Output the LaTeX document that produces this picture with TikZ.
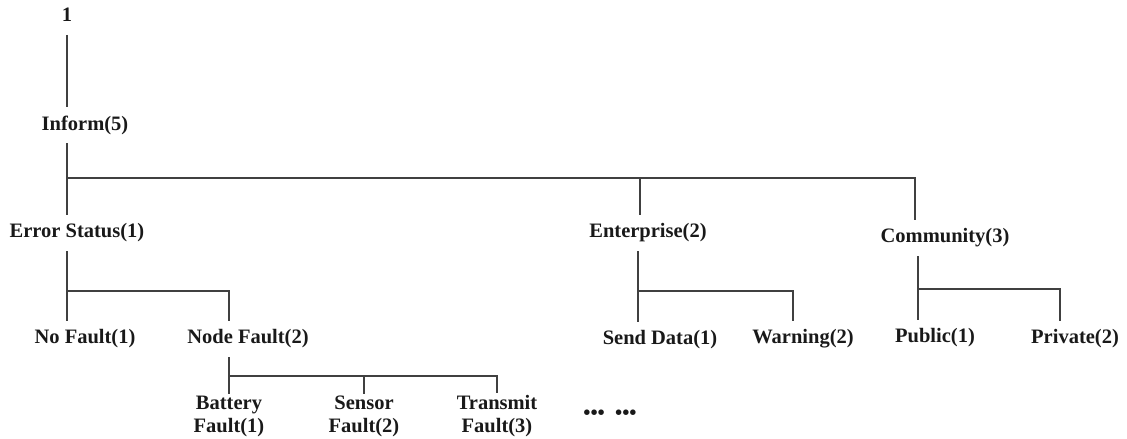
\documentclass[tikz,border=0pt]{standalone}
\usepackage{fontspec}
\setmainfont{Liberation Serif}
\begin{document}
\begin{tikzpicture}[x=1pt,y=-1pt,
  lbl/.style={font=\fontsize{20.5}{23}\selectfont\bfseries, inner sep=0pt, outer ysep=9pt, text=black!90},
  leaf/.style={lbl, align=center, outer ysep=2pt},
  branch/.style={draw=black!75, line width=1.1pt}]
\useasboundingbox (0,0) rectangle (1127,439);

% labels
\node[lbl, outer ysep=13pt] (one) at (67,15) {1};
\node[lbl] (inform) at (85,125) {Inform(5)};
\node[lbl] (err) at (77,233) {Error Status(1)};
\node[lbl] (ent) at (648,233) {Enterprise(2)};
\node[lbl] (com) at (945,238) {Community(3)};
\node[lbl] (nof) at (85,339) {No Fault(1)};
\node[lbl] (nodef) at (248,339) {Node Fault(2)};
\node[lbl] (send) at (660,340) {Send Data(1)};
\node[lbl] (warn) at (803,339) {Warning(2)};
\node[lbl] (pub) at (935,338) {Public(1)};
\node[lbl] (priv) at (1075,339) {Private(2)};
\node[leaf] (bat) at (229,416) {Battery\\Fault(1)};
\node[leaf] (sen) at (364,416) {Sensor\\Fault(2)};
\node[leaf] (tra) at (497,416) {Transmit\\Fault(3)};
\node[lbl] (dots) at (610,415) {\textbullet\textbullet\textbullet\ \ \textbullet\textbullet\textbullet};

% junction points
\coordinate (j1) at (67,178);
\coordinate (j2) at (640,178);
\coordinate (j3) at (915,178);
\coordinate (j4) at (67,291);
\coordinate (j5) at (229,291);
\coordinate (k1) at (229,376);
\coordinate (k2) at (364,376);
\coordinate (k3) at (497,376);
\coordinate (e1) at (638,291);
\coordinate (e2) at (793,291);
\coordinate (c1) at (918,289);
\coordinate (c2) at (1060,289);

% connectors
\draw[branch] (one) -- (one |- inform.north);
\draw[branch] (j1 |- inform.south) -- (j1 |- err.north);
\draw[branch] (j1) -- (j3) -- (j3 |- com.north);
\draw[branch] (j2) -- (j2 |- ent.north);

\draw[branch] (j4 |- err.south) -- (j4 |- nof.north);
\draw[branch] (j4) -| (j5 |- nodef.north);

\draw[branch] (k1 |- nodef.south) -- (k1 |- bat.north);
\draw[branch] (k1) -| (k3 |- tra.north);
\draw[branch] (k2) -- (k2 |- sen.north);

\draw[branch] (e1 |- ent.south) -- (e1 |- send.north);
\draw[branch] (e1) -| (e2 |- warn.north);

\draw[branch] (c1 |- com.south) -- (c1 |- pub.north);
\draw[branch] (c1) -| (c2 |- priv.north);
\end{tikzpicture}
\end{document}
